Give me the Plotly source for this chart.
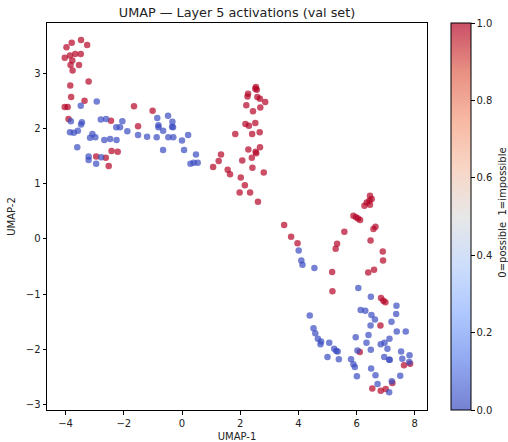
import plotly.graph_objects as go

# UMAP coordinates and labels (0=possible, 1=impossible)
umap_x = [
    # red cluster top-left
    -3.47, -3.79, -3.97, -3.26, -4.03, -3.85, -3.67, -3.48, -3.77, -3.83, -3.54, -3.76,
    -3.21, -3.84, -3.81, -3.35, -4.03, -3.93, -3.90, -1.65, -1.01, -1.51, -2.44,
    -2.42, -2.21, -2.95, -2.62, -2.52,
    # blue band left
    -2.93, -3.48, -3.82, -3.44, -3.47, -3.85, -3.72, -3.58, -3.60, -3.08, -3.16, -2.98,
    -2.79, -2.61, -2.26, -2.13, -2.05, -2.67, -2.47, -2.25, -1.88, -1.51, -1.20, -0.87,
    -0.85, -0.81, -0.81, -0.48, -0.33, -0.34, -0.31, -0.65, -0.65, -0.47, -0.30,
    0.00, 0.21, 0.07, 0.48, 0.29, 0.40, 0.54, -3.21, -3.21, -2.95, -2.78,
    # red middle cluster
    2.54, 2.57, 2.52, 2.27, 2.25, 2.59, 2.68, 2.86, 2.21, 2.69, 2.44, 2.18, 2.30, 2.52,
    1.83, 2.41, 2.67, 2.28, 2.53, 2.55, 2.68, 1.34, 1.26, 1.07, 2.07, 2.40, 1.57, 1.65,
    2.42, 2.81, 2.02, 2.16, 1.98, 2.34, 2.61,
    # red right cluster
    3.51, 3.75, 3.97, 6.46, 6.52, 6.44, 6.35, 6.46, 6.27, 5.89, 5.98, 6.05, 6.12, 5.58,
    6.65, 6.58, 6.48, 5.33, 5.28, 6.90, 6.91, 6.60, 6.40, 5.16, 5.17, 6.84, 6.92, 6.99,
    6.82, 6.11, 7.63, 7.84, 6.54, 6.83, 7.00, 7.23,
    # blue bottom-right cluster
    4.01, 4.10, 4.14, 4.55, 6.06, 6.49, 7.37, 7.36, 6.14, 6.30, 6.51, 6.63, 6.48, 7.20,
    4.39, 4.52, 4.58, 4.67, 4.78, 4.76, 5.06, 5.00, 5.23, 5.30, 5.35, 5.39, 5.97, 6.41,
    6.34, 6.49, 6.03, 7.38, 7.69, 6.83, 6.96, 7.13, 7.06, 7.53, 6.95, 7.12, 7.14, 7.57,
    7.82, 7.81, 5.81, 5.89, 5.94, 6.01, 6.50, 6.65, 6.72, 7.50, 7.21, 7.12,
]
umap_y = [
    3.60, 3.55, 3.47, 3.51, 3.28, 3.32, 3.35, 3.35, 3.23, 3.15, 3.15, 3.05,
    2.85, 2.78, 2.57, 2.50, 2.39, 2.39, 2.17, 2.40, 2.32, 2.04, 2.14,
    1.59, 1.58, 1.49, 1.47, 1.32,
    2.49, 2.41, 2.13, 2.11, 2.07, 1.93, 1.92, 1.96, 1.66, 1.90, 1.83, 1.84,
    2.16, 2.17, 2.02, 2.02, 2.13, 1.79, 1.81, 1.79, 1.95, 1.88, 1.85, 1.84,
    2.19, 2.06, 2.02, 2.23, 2.12, 2.03, 2.02, 1.96, 1.61, 1.84, 1.84,
    1.78, 1.88, 1.61, 1.53, 1.36, 1.38, 1.38, 1.49, 1.43, 1.36, 1.48,
    2.75, 2.70, 2.72, 2.63, 2.58, 2.57, 2.54, 2.48, 2.42, 2.38, 2.31, 2.08, 2.05, 2.10,
    1.90, 1.90, 1.93, 1.62, 1.58, 1.55, 1.66, 1.53, 1.41, 1.30, 1.42, 1.47, 1.25, 1.17,
    1.29, 1.20, 1.11, 0.97, 0.84, 0.84, 0.67,
    0.25, 0.04, -0.08, 0.78, 0.72, 0.69, 0.66, 0.62, 0.60, 0.42, 0.39, 0.37, 0.34, 0.13,
    0.22, 0.18, -0.03, -0.09, -0.18, -0.23, -0.39, -0.56, -0.61, -0.60, -0.95, -1.07, -1.12, -1.15,
    -1.57, -2.05, -2.29, -2.26, -2.71, -2.75, -2.72, -2.61,
    -0.21, -0.39, -0.47, -0.53, -0.89, -1.05, -1.21, -1.36, -1.29, -1.30, -1.38, -1.46, -1.57, -1.50,
    -1.39, -1.62, -1.71, -1.81, -1.86, -1.91, -1.88, -2.14, -1.99, -2.03, -2.04, -2.18, -1.78, -1.74,
    -1.88, -2.01, -2.02, -1.68, -1.68, -1.91, -1.88, -1.81, -1.99, -2.04, -2.14, -2.19, -2.19, -2.17,
    -2.11, -2.23, -2.18, -2.27, -2.32, -2.49, -2.35, -2.47, -2.63, -2.48, -2.58, -2.78,
]
labels = [1] * 28 + [0] * 46 + [1] * 35 + [1] * 36 + [0] * 54

colorbar_ticks = [0, 0.2, 0.4, 0.6, 0.8, 1.0]
colorbar_label = "0=possible  1=impossible"

# matplotlib "coolwarm" with alpha 0.7
coolwarm = [
    [0.0, "rgba(59,76,192,0.7)"],
    [0.125, "rgba(98,130,234,0.7)"],
    [0.25, "rgba(141,176,254,0.7)"],
    [0.375, "rgba(184,208,249,0.7)"],
    [0.5, "rgba(221,221,221,0.7)"],
    [0.625, "rgba(245,196,173,0.7)"],
    [0.75, "rgba(244,154,123,0.7)"],
    [0.875, "rgba(222,96,77,0.7)"],
    [1.0, "rgba(180,4,38,0.7)"],
]

W, H = 508, 442
L, R, T, B = 47, 81, 23, 32
PW = W - L - R

fig = go.Figure()
fig.add_trace(go.Scatter(
    x=umap_x, y=umap_y, mode="markers",
    marker=dict(
        size=6.5, color=labels, colorscale=coolwarm, cmin=0, cmax=1,
        line=dict(width=0),
        showscale=True,
        colorbar=dict(
            x=(451 - L) / PW, xanchor="left", y=0.5, yanchor="middle", len=1, lenmode="fraction",
            thickness=20, thicknessmode="pixels", xpad=0, ypad=0,
            outlinecolor="black", outlinewidth=1,
            tickvals=colorbar_ticks, tickformat=".1f",
            ticks="outside", ticklen=3.5, tickcolor="black",
            tickfont=dict(size=10, color="#222"),
        ),
    ),
    showlegend=False,
))

fig.add_annotation(
    text=colorbar_label, textangle=-90, showarrow=False,
    xref="paper", yref="paper", x=(503 - L) / PW, y=0.51,
    xanchor="center", yanchor="middle",
    font=dict(size=10, color="#222"),
)

axis_common = dict(
    showgrid=False, zeroline=False, showline=True, linecolor="black", linewidth=1,
    mirror=True, ticks="outside", ticklen=3.5, tickcolor="black",
    tickfont=dict(size=10, color="#222"),
)
fig.update_layout(
    width=W, height=H,
    margin=dict(l=L, r=R, t=T, b=B, autoexpand=False),
    paper_bgcolor="white", plot_bgcolor="white",
    font=dict(family="DejaVu Sans", color="#222"),
    title=dict(text="UMAP — Layer 5 activations (val set)", x=(L + PW / 2) / W, xanchor="center",
               y=1 - 12.5 / H, yanchor="middle", font=dict(size=12.8, color="#222")),
    xaxis=dict(range=[-4.64, 8.42], tickvals=[-4, -2, 0, 2, 4, 6, 8],
               title=dict(text="UMAP-1", font=dict(size=10), standoff=6), **axis_common),
    yaxis=dict(range=[-3.10, 3.91], tickvals=[-3, -2, -1, 0, 1, 2, 3],
               title=dict(text="UMAP-2", font=dict(size=10), standoff=8), **axis_common),
)
# remove the browser's default 8px body margin so the figure fills the window exactly
fig.write_html(
    "out.html",
    config={"displayModeBar": False},
    post_script="document.body.style.margin='0';document.body.style.overflow='hidden';",
)
